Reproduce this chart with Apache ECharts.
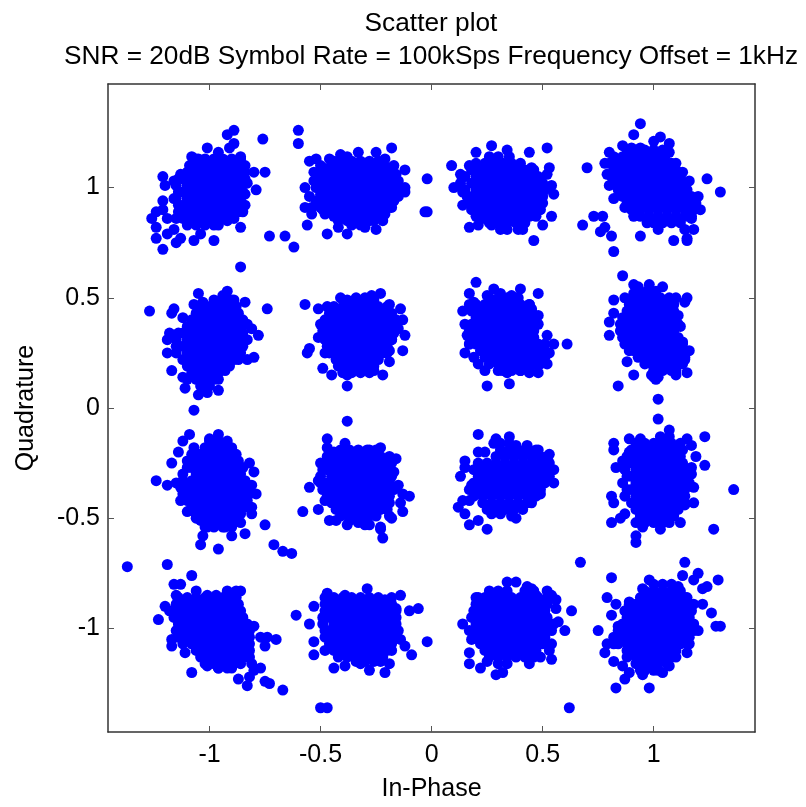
<!DOCTYPE html>
<html><head><meta charset="utf-8">
<script src="https://cdn.jsdelivr.net/npm/echarts@6/dist/echarts.min.js"></script>
<style>html,body{margin:0;padding:0;background:#fff}#c{width:806px;height:807px}</style>
</head><body><div id="c"></div>
<script>
const tickValues=[-1,-0.5,0,0.5,1];
const titleLines=["Scatter plot","SNR = 20dB Symbol Rate = 100kSps Frequency Offset = 1kHz"];
const xName="In-Phase", yName="Quadrature";

const stray=[[-.76,1.22],[-.60,1.26],[-.60,1.20],[-.02,1.04],[-.03,.89],[-.02,.89],[-.73,.78],[-.66,.78],[-.62,.73],[-.86,.64],[.73,.87],[.77,.87],[.68,.83],[.78,.82],[.76,.80],[.81,.78],[.82,.71],[-1.07,-.01],[-.38,-.06],[-.71,-.62],[-.67,-.65],[-.63,-.66],[-1.37,-.72],[-1.19,-.71],[-.50,-1.36],[-.47,-1.36],[.62,-1.36],[.67,-.70],[1.36,-.37],[1.27,-.55]];

const edgeA=[[-.89,1.26],[-.92,1.24],[-.89,1.20],[-.91,1.18],[-1.01,1.18],[-.96,1.16],[-1.08,1.14],[-1.05,1.13],[-.86,1.14],[-.84,1.10],[-.80,1.07],[-.75,1.07],[-.83,1.02],[-.79,.99],[-.84,.97],[-.84,.92],[-.85,.89],[-.92,.85],[-.86,.82],[-.96,.83],[-.98,.76],[-1.04,.79],[-1.07,.76],[-1.13,.77],[-1.15,.75],[-1.16,.81],[-1.19,.79],[-1.24,.77],[-1.21,.72],[-1.24,.82],[-1.26,.86],[-1.24,.89],[-1.21,.90],[-1.21,.94],[-1.19,.86],[-1.16,.95],[-1.20,1.01],[-1.21,1.05],[-1.16,1.03],[-1.13,1.06],[-1.09,1.10]];
const fillA=[[1.13,-1.06,-1.02,-.98,-.94,-.90,-.86],[1.10,-1.08,-1.04,-1.00,-.96,-.92,-.88,-.85],[1.07,-1.10,-1.06,-1.02,-.98,-.94,-.90,-.86,-.84],[1.04,-1.14,-1.12,-1.08,-1.04,-1.00,-.96,-.92,-.88,-.84],[1.01,-1.15,-1.10,-1.06,-1.02,-.98,-.94,-.90,-.86],[.98,-1.14,-1.12,-1.08,-1.04,-1.00,-.96,-.92,-.88,-.85],[.95,-1.15,-1.10,-1.06,-1.02,-.98,-.94,-.90,-.86],[.92,-1.14,-1.12,-1.08,-1.04,-1.00,-.96,-.92,-.88,-.86],[.89,-1.14,-1.10,-1.06,-1.02,-.98,-.94,-.90,-.87],[.86,-1.15,-1.12,-1.08,-1.04,-1.00,-.96,-.92,-.89],[.83,-1.10,-1.06,-1.02,-.98]];

const edgeB=[[-.18,1.18],[-.25,1.16],[-.33,1.16],[-.38,1.14],[-.41,1.15],[-.46,1.13],[-.52,1.13],[-.55,1.12],[-.50,1.10],[-.53,1.07],[-.57,1.00],[-.53,1.03],[-.55,.96],[-.57,.91],[-.54,.88],[-.56,.83],[-.47,.79],[-.42,.82],[-.38,.79],[-.30,.82],[-.25,.81],[-.22,.85],[-.28,.85],[-.18,.91],[-.15,.96],[-.12,.98],[-.12,1.00],[-.16,1.03],[-.12,1.08],[-.17,1.10],[-.21,1.13],[-.49,.90],[-.44,.87],[-.35,.84]];
const fillB=[[1.12,-.44,-.40,-.36,-.32,-.28,-.24],[1.09,-.49,-.46,-.42,-.38,-.34,-.30,-.26,-.22,-.19],[1.06,-.50,-.48,-.44,-.40,-.36,-.32,-.28,-.24,-.20,-.16],[1.03,-.50,-.46,-.42,-.38,-.34,-.30,-.26,-.22,-.18,-.15],[1.00,-.52,-.48,-.44,-.40,-.36,-.32,-.28,-.24,-.20,-.16],[.97,-.50,-.46,-.42,-.38,-.34,-.30,-.26,-.22,-.18,-.16],[.94,-.52,-.48,-.44,-.40,-.36,-.32,-.28,-.24,-.20,-.17],[.91,-.54,-.50,-.46,-.42,-.38,-.34,-.30,-.26,-.22,-.19],[.88,-.48,-.44,-.40,-.36,-.32,-.28,-.24,-.21],[.85,-.42,-.38,-.34,-.30,-.26],[.83,-.36,-.32]];

const edgeC=[[.27,1.19],[.20,1.16],[.34,1.17],[.44,1.16],[.52,1.18],[.09,1.10],[.17,1.10],[.13,1.06],[.10,1.00],[.14,.98],[.53,1.09],[.52,1.06],[.54,1.01],[.55,.97],[.14,.92],[.17,.82],[.21,.83],[.27,.83],[.31,.81],[.34,.81],[.39,.81],[.41,.81],[.46,.76],[.50,.83],[.54,.87],[.49,.94],[.45,1.09],[.23,.86],[.36,.85]];
const fillC=[[1.14,.26,.30,.35],[1.11,.20,.24,.28,.32,.36,.40],[1.08,.18,.22,.26,.30,.34,.38,.42,.46],[1.05,.15,.20,.24,.28,.32,.36,.40,.44,.48],[1.02,.13,.18,.22,.26,.30,.34,.38,.42,.46,.50],[.99,.15,.20,.24,.28,.32,.36,.40,.44,.48,.51],[.96,.16,.18,.22,.26,.30,.34,.38,.42,.46,.50],[.93,.17,.20,.24,.28,.32,.36,.40,.44,.48,.50],[.90,.18,.22,.26,.30,.34,.38,.42,.46,.49],[.87,.20,.24,.28,.32,.36,.40,.44,.47],[.84,.26,.30,.34,.38,.42]];

const edgeD=[[.94,1.29],[.91,1.24],[1.03,1.23],[1.07,1.20],[1.00,1.21],[.86,1.19],[.90,1.18],[.94,1.18],[.80,1.16],[.78,1.11],[.70,1.09],[.79,1.06],[.80,1.01],[.82,.95],[.87,.91],[.91,.87],[.97,.84],[1.02,.81],[.94,.78],[1.09,.76],[1.15,.76],[1.15,.77],[1.14,.81],[1.18,.81],[1.17,.86],[1.21,.90],[1.20,.96],[1.24,1.04],[1.30,.98],[1.16,1.03],[1.13,1.07],[1.10,1.11],[1.07,1.16]];
const fillD=[[1.17,.88,.92,.96,1.00,1.04],[1.14,.82,.86,.90,.94,.98,1.02,1.05],[1.11,.80,.84,.88,.92,.96,1.00,1.04,1.08],[1.08,.82,.86,.90,.94,.98,1.02,1.06,1.10],[1.05,.81,.84,.88,.92,.96,1.00,1.04,1.08,1.12],[1.02,.82,.86,.90,.94,.98,1.02,1.06,1.10,1.14],[.99,.84,.88,.92,.96,1.00,1.04,1.08,1.12,1.15],[.96,.86,.90,.94,.98,1.02,1.06,1.10,1.14,1.17],[.93,.88,.92,.96,1.00,1.04,1.08,1.12,1.16,1.19],[.90,.90,.94,.98,1.02,1.06,1.10,1.14,1.18],[.87,.94,.98,1.02,1.06,1.10,1.14,1.17],[.84,1.00,1.04,1.08,1.12]];

const edgeE=[[-.92,.53],[-.94,.51],[-1.05,.52],[-.89,.49],[-.84,.48],[-.74,.45],[-1.27,.44],[-1.16,.45],[-1.17,.43],[-1.03,.48],[-1.07,.47],[-1.12,.41],[-.83,.38],[-.81,.36],[-.78,.33],[-1.18,.34],[-1.19,.31],[-1.19,.25],[-.80,.23],[-.83,.22],[-.87,.22],[-.93,.17],[-.96,.08],[-1.01,.07],[-1.05,.06],[-1.11,.09],[-1.12,.14],[-1.17,.17],[-.96,.13]];
const fillE=[[.49,-.98,-.94,-.90],[.46,-1.04,-1.00,-.96,-.92,-.88],[.43,-1.06,-1.02,-.98,-.94,-.90,-.87],[.40,-1.08,-1.04,-1.00,-.96,-.92,-.88,-.85],[.37,-1.10,-1.06,-1.02,-.98,-.94,-.90,-.86],[.34,-1.14,-1.12,-1.08,-1.04,-1.00,-.96,-.92,-.88,-.85],[.31,-1.15,-1.10,-1.06,-1.02,-.98,-.94,-.90,-.86,-.83],[.28,-1.15,-1.12,-1.08,-1.04,-1.00,-.96,-.92,-.88,-.85],[.25,-1.15,-1.10,-1.06,-1.02,-.98,-.94,-.90,-.86],[.22,-1.12,-1.08,-1.04,-1.00,-.96,-.92,-.89],[.19,-1.10,-1.06,-1.02,-.98,-.94,-.91],[.16,-1.08,-1.04,-1.00,-.96],[.13,-1.10,-1.06,-1.02,-.98],[.10,-1.04,-1.00]];

const edgeF=[[-.23,.52],[-.27,.51],[-.30,.50],[-.34,.50],[-.41,.50],[-.47,.46],[-.51,.45],[-.57,.47],[-.19,.47],[-.14,.45],[-.20,.44],[-.13,.40],[-.15,.36],[-.12,.33],[-.18,.31],[-.13,.26],[-.19,.26],[-.19,.21],[-.22,.15],[-.38,.10],[-.38,.15],[-.45,.15],[-.49,.18],[-.56,.25],[-.55,.27],[-.48,.25],[-.51,.32],[-.49,.35],[-.50,.38],[-.26,.17]];
const fillF=[[.49,-.38,-.34,-.30,-.26],[.46,-.44,-.40,-.36,-.32,-.28,-.24,-.20],[.43,-.46,-.42,-.38,-.34,-.30,-.26,-.22,-.18],[.40,-.48,-.44,-.40,-.36,-.32,-.28,-.24,-.20,-.16],[.37,-.48,-.46,-.42,-.38,-.34,-.30,-.26,-.22,-.18,-.16],[.34,-.48,-.44,-.40,-.36,-.32,-.28,-.24,-.20,-.17],[.31,-.48,-.46,-.42,-.38,-.34,-.30,-.26,-.22,-.18],[.28,-.47,-.44,-.40,-.36,-.32,-.28,-.24,-.20],[.25,-.46,-.42,-.38,-.34,-.30,-.26,-.22,-.20],[.22,-.43,-.40,-.36,-.32,-.28,-.24],[.19,-.42,-.38,-.34,-.30,-.26],[.16,-.40,-.36,-.32,-.28]];

const edgeG=[[.20,.57],[.17,.52],[.28,.54],[.31,.52],[.40,.54],[.48,.52],[.25,.51],[.36,.51],[.39,.50],[.44,.47],[.45,.45],[.19,.48],[.17,.47],[.14,.44],[.21,.45],[.15,.38],[.16,.33],[.48,.42],[.48,.38],[.52,.33],[.55,.29],[.61,.29],[.53,.25],[.52,.20],[.48,.16],[.44,.16],[.40,.17],[.34,.16],[.30,.17],[.24,.17],[.21,.20],[.19,.23],[.15,.25],[.25,.10],[.35,.11],[.17,.29]];
const fillG=[[.50,.26,.30,.34,.38],[.47,.20,.24,.28,.32,.36,.40,.44],[.44,.18,.22,.26,.30,.34,.38,.42,.45],[.41,.20,.24,.28,.32,.36,.40,.44,.46],[.38,.18,.22,.26,.30,.34,.38,.42,.46],[.35,.17,.20,.24,.28,.32,.36,.40,.44,.46],[.32,.18,.22,.26,.30,.34,.38,.42,.46],[.29,.17,.20,.24,.28,.32,.36,.40,.44,.48,.51],[.26,.22,.26,.30,.34,.38,.42,.46,.50,.51],[.23,.24,.28,.32,.36,.40,.44,.48,.51],[.20,.26,.30,.34,.38,.42,.46,.49],[.17,.32,.36,.40,.44]];

const edgeH=[[.86,.60],[.91,.56],[.93,.55],[.98,.56],[1.04,.55],[.82,.49],[.87,.50],[.91,.52],[1.15,.50],[1.14,.48],[1.10,.50],[.82,.43],[.80,.39],[.80,.33],[1.12,.37],[1.11,.42],[.88,.21],[.91,.15],[.84,.10],[1.02,.04],[1.15,.16],[1.10,.15],[1.01,.13],[1.16,.26],[1.14,.22],[1.13,.30],[.99,.15]];
const fillH=[[.53,.93,.97,1.01],[.50,.91,.95,.99,1.03,1.07],[.47,.89,.93,.97,1.01,1.05,1.09],[.44,.88,.91,.95,.99,1.03,1.07,1.09],[.41,.86,.89,.93,.97,1.01,1.05,1.09],[.38,.85,.87,.91,.95,.99,1.03,1.07,1.11],[.35,.85,.89,.93,.97,1.01,1.05,1.09],[.32,.86,.87,.91,.95,.99,1.03,1.07,1.11],[.29,.87,.89,.93,.97,1.01,1.05,1.09,1.13],[.26,.89,.91,.95,.99,1.03,1.07,1.11,1.14],[.23,.93,.97,1.01,1.05,1.09,1.13,1.14],[.20,.96,.99,1.03,1.07,1.11,1.13],[.17,1.00,1.04,1.08,1.10],[.14,1.00,1.02]];

const edgeI=[[-1.09,-.12],[-.96,-.12],[-1.12,-.15],[-1.14,-.20],[-1.07,-.18],[-1.00,-.14],[-.93,-.16],[-1.17,-.25],[-1.24,-.33],[-1.19,-.35],[-1.15,-.34],[-1.13,-.42],[-1.10,-.47],[-1.06,-.50],[-1.04,-.62],[-1.03,-.58],[-.96,-.64],[-.90,-.58],[-.84,-.57],[-.75,-.53],[-.86,-.52],[-.81,-.48],[-.81,-.45],[-.79,-.39],[-.81,-.35],[-.80,-.29],[-.82,-.25],[-.88,-.23],[-1.01,-.54],[-.93,-.54]];
const fillI=[[-.15,-1.00,-.96,-.92],[-.18,-1.02,-.98,-.94,-.90],[-.21,-1.08,-1.04,-1.00,-.96,-.92,-.88],[-.24,-1.10,-1.06,-1.02,-.98,-.94,-.90,-.87],[-.27,-1.10,-1.08,-1.04,-1.00,-.96,-.92,-.88,-.85],[-.30,-1.12,-1.06,-1.02,-.98,-.94,-.90,-.86],[-.33,-1.12,-1.08,-1.04,-1.00,-.96,-.92,-.88,-.84],[-.36,-1.13,-1.10,-1.06,-1.02,-.98,-.94,-.90,-.86,-.82],[-.39,-1.12,-1.08,-1.04,-1.00,-.96,-.92,-.88,-.84,-.82],[-.42,-1.10,-1.06,-1.02,-.98,-.94,-.90,-.86,-.83],[-.45,-1.08,-1.04,-1.00,-.96,-.92,-.88,-.84],[-.48,-1.06,-1.02,-.98,-.94,-.90,-.86],[-.51,-1.04,-1.00,-.96,-.92,-.88],[-.54,-1.02,-.98,-.94,-.90]];

const edgeJ=[[-.47,-.14],[-.39,-.16],[-.47,-.18],[-.44,-.20],[-.23,-.18],[-.16,-.23],[-.28,-.19],[-.50,-.25],[-.51,-.33],[-.55,-.36],[-.15,-.35],[-.13,-.39],[-.10,-.40],[-.14,-.43],[-.13,-.47],[-.19,-.49],[-.18,-.50],[-.23,-.54],[-.23,-.55],[-.22,-.59],[-.28,-.53],[-.30,-.53],[-.38,-.53],[-.33,-.52],[-.43,-.51],[-.46,-.51],[-.51,-.46],[-.58,-.47],[-.48,-.42],[-.17,-.29]];
const fillJ=[[-.19,-.41,-.37,-.33,-.29,-.25],[-.22,-.47,-.43,-.39,-.35,-.31,-.27,-.23,-.19],[-.25,-.48,-.45,-.41,-.37,-.33,-.29,-.25,-.21,-.18],[-.28,-.49,-.47,-.43,-.39,-.35,-.31,-.27,-.23,-.19],[-.31,-.50,-.45,-.41,-.37,-.33,-.29,-.25,-.21,-.18],[-.34,-.50,-.47,-.43,-.39,-.35,-.31,-.27,-.23,-.19],[-.37,-.49,-.45,-.41,-.37,-.33,-.29,-.25,-.21,-.17],[-.40,-.47,-.43,-.39,-.35,-.31,-.27,-.23,-.19],[-.43,-.45,-.41,-.37,-.33,-.29,-.25,-.21,-.19],[-.46,-.43,-.39,-.35,-.31,-.27,-.23,-.20],[-.49,-.41,-.37,-.33,-.29,-.25],[-.51,-.37,-.33,-.29]];

const edgeK=[[.21,-.12],[.29,-.14],[.35,-.13],[.28,-.16],[.21,-.20],[.24,-.20],[.15,-.24],[.38,-.17],[.43,-.17],[.48,-.19],[.53,-.21],[.55,-.28],[.55,-.34],[.13,-.31],[.15,-.27],[.14,-.42],[.12,-.45],[.15,-.48],[.17,-.53],[.21,-.51],[.25,-.55],[.38,-.50],[.36,-.49],[.49,-.39],[.18,-.35],[.17,-.42]];
const fillK=[[-.16,.31,.35],[-.19,.31,.35,.39,.43,.47],[-.22,.29,.33,.37,.41,.45,.49,.52],[-.25,.21,.25,.29,.33,.37,.41,.45,.49,.53],[-.28,.19,.23,.27,.31,.35,.39,.43,.47,.51,.54],[-.31,.21,.25,.29,.33,.37,.41,.45,.49,.53],[-.34,.19,.23,.27,.31,.35,.39,.43,.47,.51],[-.37,.17,.21,.25,.29,.33,.37,.41,.45,.49],[-.40,.19,.23,.27,.31,.35,.39,.43,.47],[-.43,.23,.27,.31,.35,.39,.43,.45],[-.46,.25,.29,.33,.37,.41],[-.48,.27,.31]];

const edgeL=[[1.02,-.05],[1.23,-.13],[1.07,-.10],[.89,-.14],[.82,-.16],[.82,-.19],[.94,-.14],[1.15,-.14],[1.17,-.17],[1.19,-.22],[1.23,-.26],[1.17,-.27],[1.17,-.30],[1.18,-.36],[1.18,-.43],[1.12,-.52],[1.03,-.55],[.95,-.54],[.92,-.58],[.92,-.61],[.81,-.40],[.82,-.43],[.81,-.52],[.85,-.50],[.87,-.48],[.83,-.27],[.86,-.24],[.89,-.20],[.92,-.52],[1.08,-.48],[1.14,-.44]];
const fillL=[[-.13,1.03,1.07],[-.16,.92,.96,1.00,1.04,1.08,1.12],[-.19,.90,.94,.98,1.02,1.06,1.10,1.13],[-.22,.88,.92,.96,1.00,1.04,1.08,1.12],[-.25,.88,.90,.94,.98,1.02,1.06,1.10,1.13],[-.28,.87,.92,.96,1.00,1.04,1.08,1.12,1.14],[-.31,.88,.90,.94,.98,1.02,1.06,1.10,1.14],[-.34,.86,.92,.96,1.00,1.04,1.08,1.12,1.16],[-.37,.88,.90,.94,.98,1.02,1.06,1.10,1.14],[-.40,.87,.92,.96,1.00,1.04,1.08,1.12,1.14],[-.43,.90,.94,.98,1.02,1.06,1.10,1.14],[-.46,.92,.96,1.00,1.04,1.08,1.11],[-.49,.94,.98,1.02,1.06,1.09],[-.52,.96,1.00,1.04,1.07]];

const edgeM=[[-1.08,-.76],[-1.16,-.80],[-1.13,-.80],[-1.06,-.83],[-.92,-.83],[-.88,-.83],[-.86,-.83],[-1.15,-.85],[-1.20,-.90],[-1.23,-.96],[-1.18,-.92],[-.80,-.99],[-.77,-1.04],[-.74,-1.04],[-.70,-1.05],[-.75,-1.08],[-.83,-1.04],[-1.17,-1.05],[-1.17,-1.08],[-1.11,-1.11],[-1.08,-1.20],[-1.01,-1.17],[-.96,-1.18],[-.90,-1.18],[-.81,-1.16],[-.77,-1.18],[-.80,-1.19],[-.82,-1.22],[-.87,-1.23],[-.83,-1.26],[-.75,-1.24],[-.73,-1.25],[-.67,-1.28],[-.84,-1.12],[-.87,-.89],[-1.01,-.85],[-.97,-.85]];
const fillM=[[-.86,-1.14,-1.10,-1.06,-1.02,-.98,-.94,-.90,-.88],[-.89,-1.15,-1.12,-1.08,-1.04,-1.00,-.96,-.92,-.88],[-.92,-1.14,-1.10,-1.06,-1.02,-.98,-.94,-.90,-.86],[-.95,-1.16,-1.12,-1.08,-1.04,-1.00,-.96,-.92,-.88,-.85],[-.98,-1.14,-1.10,-1.06,-1.02,-.98,-.94,-.90,-.86,-.83],[-1.01,-1.15,-1.12,-1.08,-1.04,-1.00,-.96,-.92,-.88,-.84,-.82],[-1.04,-1.14,-1.10,-1.06,-1.02,-.98,-.94,-.90,-.86,-.82],[-1.07,-1.12,-1.08,-1.04,-1.00,-.96,-.92,-.88,-.84,-.82],[-1.10,-1.06,-1.02,-.98,-.94,-.90,-.86,-.82],[-1.13,-1.04,-1.00,-.96,-.92,-.88,-.84,-.82],[-1.16,-1.02,-.98,-.94,-.90,-.86],[-1.18,-.96,-.92]];

const edgeN=[[-.29,-.82],[-.14,-.85],[-.18,-.86],[-.21,-.87],[-.53,-.90],[-.47,-.84],[-.39,-.85],[-.16,-.91],[-.10,-.92],[-.06,-.91],[-.61,-.94],[-.55,-.98],[-.53,-1.06],[-.53,-1.12],[-.48,-1.10],[-.44,-1.18],[-.39,-1.17],[-.32,-1.16],[-.28,-1.19],[-.21,-1.20],[-.19,-1.16],[-.09,-1.12],[-.12,-1.08],[-.15,-1.01],[-.14,-1.05],[-.23,-1.15],[-.02,-1.06]];
const fillN=[[-.86,-.48,-.44,-.40,-.36,-.32,-.28,-.24],[-.89,-.48,-.46,-.42,-.38,-.34,-.30,-.26,-.22,-.18],[-.92,-.48,-.44,-.40,-.36,-.32,-.28,-.24,-.20,-.16],[-.95,-.49,-.46,-.42,-.38,-.34,-.30,-.26,-.22,-.18,-.16],[-.98,-.49,-.44,-.40,-.36,-.32,-.28,-.24,-.20,-.16],[-1.01,-.48,-.46,-.42,-.38,-.34,-.30,-.26,-.22,-.18,-.17],[-1.04,-.48,-.44,-.40,-.36,-.32,-.28,-.24,-.20,-.17],[-1.07,-.46,-.42,-.38,-.34,-.30,-.26,-.22,-.18],[-1.10,-.44,-.40,-.36,-.32,-.28,-.24,-.20,-.18],[-1.13,-.42,-.38,-.34,-.30,-.26,-.22],[-1.15,-.34,-.30,-.26]];

const edgeO=[[.34,-.79],[.38,-.79],[.43,-.81],[.45,-.82],[.52,-.83],[.54,-.85],[.56,-.87],[.56,-.91],[.63,-.92],[.57,-.97],[.60,-1.01],[.54,-1.07],[.54,-1.14],[.49,-1.13],[.44,-1.16],[.32,-1.20],[.29,-1.21],[.22,-1.18],[.17,-1.16],[.17,-1.11],[.14,-.98],[.17,-1.01],[.18,-1.05],[.18,-.95],[.19,-.92],[.20,-.86],[.25,-1.15],[.53,-1.10],[.27,-.84],[.47,-.85]];
const fillO=[[-.83,.26,.30,.34,.42,.46],[-.86,.21,.24,.28,.32,.36,.40,.44,.48,.52],[-.89,.20,.22,.26,.30,.34,.38,.42,.46,.50,.52],[-.92,.20,.24,.28,.32,.36,.40,.44,.48,.51],[-.95,.20,.22,.26,.30,.34,.38,.42,.46,.50,.52],[-.98,.20,.24,.28,.32,.36,.40,.44,.48,.52,.55],[-1.01,.20,.22,.26,.30,.34,.38,.42,.46,.50,.54],[-1.04,.20,.24,.28,.32,.36,.40,.44,.48,.51],[-1.07,.22,.26,.30,.34,.38,.42,.46,.50],[-1.10,.24,.28,.32,.36,.40,.44,.47],[-1.13,.26,.30,.34,.38,.42,.46],[-1.16,.30,.34]];

const edgeP=[[.81,-.77],[1.14,-.70],[1.13,-.76],[1.20,-.75],[1.18,-.78],[1.24,-.81],[1.22,-.82],[1.29,-.78],[.98,-.78],[.79,-.86],[.83,-.89],[.87,-.92],[.81,-.94],[.75,-1.01],[.84,-.99],[1.22,-.89],[1.26,-.93],[1.28,-.99],[1.30,-.99],[1.20,-1.01],[1.16,-1.07],[1.15,-1.11],[1.10,-1.13],[1.07,-1.17],[1.04,-1.20],[.98,-1.27],[.83,-1.27],[.87,-1.23],[.89,-1.20],[.86,-1.17],[.82,-1.15],[.78,-1.11],[.79,-1.07],[.95,-1.21],[1.11,-.81],[.95,-.82],[.89,-.88]];
const fillP=[[-.80,1.00,1.04,1.08],[-.83,.96,1.00,1.04,1.08,1.12],[-.86,.94,.98,1.02,1.06,1.10,1.14,1.15],[-.89,.89,.92,.96,1.00,1.04,1.08,1.12,1.16,1.18],[-.92,.90,.94,.98,1.02,1.06,1.10,1.14,1.17],[-.95,.88,.92,.96,1.00,1.04,1.08,1.12,1.16],[-.98,.86,.90,.94,.98,1.02,1.06,1.10,1.14,1.18],[-1.01,.84,.88,.92,.96,1.00,1.04,1.08,1.12,1.16,1.18],[-1.04,.82,.86,.90,.94,.98,1.02,1.06,1.10,1.14,1.16],[-1.07,.82,.84,.88,.92,.96,1.00,1.04,1.08,1.12,1.15],[-1.10,.88,.90,.94,.98,1.02,1.06,1.10],[-1.13,.88,.92,.96,1.00,1.04,1.08],[-1.16,.92,.94,.98,1.02,1.06],[-1.19,.94,.96,1.00,1.02]];

const edges=[edgeA,edgeB,edgeC,edgeD,edgeE,edgeF,edgeG,edgeH,edgeI,edgeJ,edgeK,edgeL,edgeM,edgeN,edgeO,edgeP];
const fills=[fillA,fillB,fillC,fillD,fillE,fillF,fillG,fillH,fillI,fillJ,fillK,fillL,fillM,fillN,fillO,fillP];
const points=[...stray,...edges.flat(),...fills.flat().flatMap(([y,...xs])=>xs.map(x=>[x,y]))];

const font="'Liberation Sans',Arial,sans-serif", ink="#333";
const tickLabel=v=>String(v);
function xa(pos,labels){return{type:'value',position:pos,min:-1.457,max:1.456,
  name:labels?xName:'',nameLocation:'middle',nameGap:45,nameTextStyle:{fontFamily:font,fontSize:25,color:'#000'},
  axisLine:{show:true,onZero:false,lineStyle:{color:ink,width:1.5}},
  axisTick:{show:true,inside:true,length:6,customValues:tickValues,lineStyle:{color:'#555',width:1}},
  axisLabel:{show:labels,customValues:tickValues,formatter:tickLabel,margin:11,fontFamily:font,fontSize:25,color:'#000'},
  splitLine:{show:false}}}
function ya(pos,labels){return{type:'value',position:pos,min:-1.47,max:1.47,
  name:labels?yName:'',nameLocation:'middle',nameGap:69,nameTextStyle:{fontFamily:font,fontSize:25,color:'#000'},
  axisLine:{show:true,onZero:false,lineStyle:{color:ink,width:1.5}},
  axisTick:{show:true,inside:true,length:6,customValues:tickValues,lineStyle:{color:'#555',width:1}},
  axisLabel:{show:labels,customValues:tickValues,formatter:tickLabel,margin:8,fontFamily:font,fontSize:25,color:'#000'},
  splitLine:{show:false}}}
const chart=echarts.init(document.getElementById('c'),null,{renderer:'canvas'});
chart.setOption({animation:false,backgroundColor:'#fff',
  title:{text:titleLines.join('\n'),left:426,top:3,textAlign:'center',
    textStyle:{fontFamily:font,fontSize:26.25,fontWeight:'normal',color:'#000',lineHeight:32.5}},
  grid:{left:108,top:84,width:647,height:649,containLabel:false},
  xAxis:[xa('bottom',true),xa('top',false)],
  yAxis:[ya('left',true),ya('right',false)],
  series:[{type:'scatter',xAxisIndex:0,yAxisIndex:0,data:points,symbol:'circle',symbolSize:11,
    itemStyle:{color:'#0000ff',opacity:1},large:false,z:1}]
});
</script></body></html>
